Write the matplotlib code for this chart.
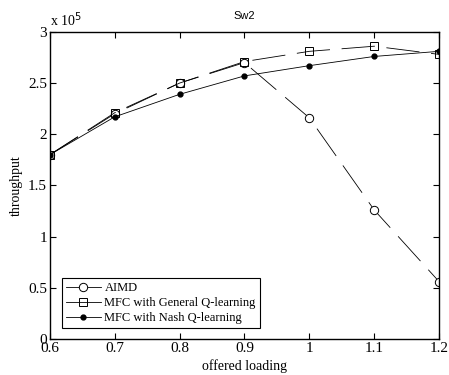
import matplotlib
matplotlib.use('Agg')
import matplotlib.pyplot as plt
from matplotlib.ticker import FormatStrFormatter

# offered loading values
loading = [0.6, 0.7, 0.8, 0.9, 1.0, 1.1, 1.2]

# throughput in units of 1e5
aimd = [1.8, 2.2, 2.5, 2.7, 2.16, 1.26, 0.56]
mfc_general = [1.8, 2.21, 2.5, 2.71, 2.81, 2.86, 2.78]
mfc_nash = [1.8, 2.17, 2.39, 2.57, 2.67, 2.76, 2.81]

plt.rcParams['font.family'] = ['Liberation Serif', 'DejaVu Serif']

fig = plt.figure(figsize=(4.49, 3.75), dpi=100)
ax = fig.add_axes([0.111, 0.096, 0.867, 0.819])

ax.plot(loading, aimd, color='black', lw=0.6, dashes=(40, 14),
        marker='o', markersize=6, markerfacecolor='white', markeredgewidth=0.7,
        label='AIMD')
ax.plot(loading, mfc_general, color='black', lw=0.6, dashes=(40, 14),
        marker='s', markersize=6, markerfacecolor='none', markeredgewidth=0.7,
        label='MFC with General Q-learning')
ax.plot(loading, mfc_nash, color='black', lw=0.6,
        marker='o', markersize=3.5, markerfacecolor='black',
        label='MFC with Nash Q-learning')

ax.set_xlim(0.6, 1.2)
ax.set_ylim(0, 3)
ax.set_xticks(loading)
ax.set_yticks([0, 0.5, 1, 1.5, 2, 2.5, 3])
ax.xaxis.set_major_formatter(FormatStrFormatter('%g'))
ax.yaxis.set_major_formatter(FormatStrFormatter('%g'))
ax.tick_params(direction='in', top=True, right=True, labelsize=11, length=4, width=0.8, pad=2)
for sp in ax.spines.values():
    sp.set_linewidth(1.0)

ax.set_xlabel('offered loading', fontsize=10, labelpad=3)
ax.set_ylabel('throughput', fontsize=10, labelpad=4)
ax.set_title('Sw2', fontsize=8, family='Liberation Sans', pad=9)
ax.text(0.0, 1.01, r'x 10$^{5}$', transform=ax.transAxes, fontsize=10, va='bottom', ha='left')

leg = ax.legend(loc='lower left', fontsize=9, frameon=True, fancybox=False,
                edgecolor='black', framealpha=1, borderpad=0.3, labelspacing=0.25,
                handlelength=2.8, handletextpad=0.3, bbox_to_anchor=(0.015, 0.015))
leg.get_frame().set_linewidth(0.8)
for line in leg.get_lines():
    line.set_linestyle('-')

fig.savefig('out.png', dpi=100)
